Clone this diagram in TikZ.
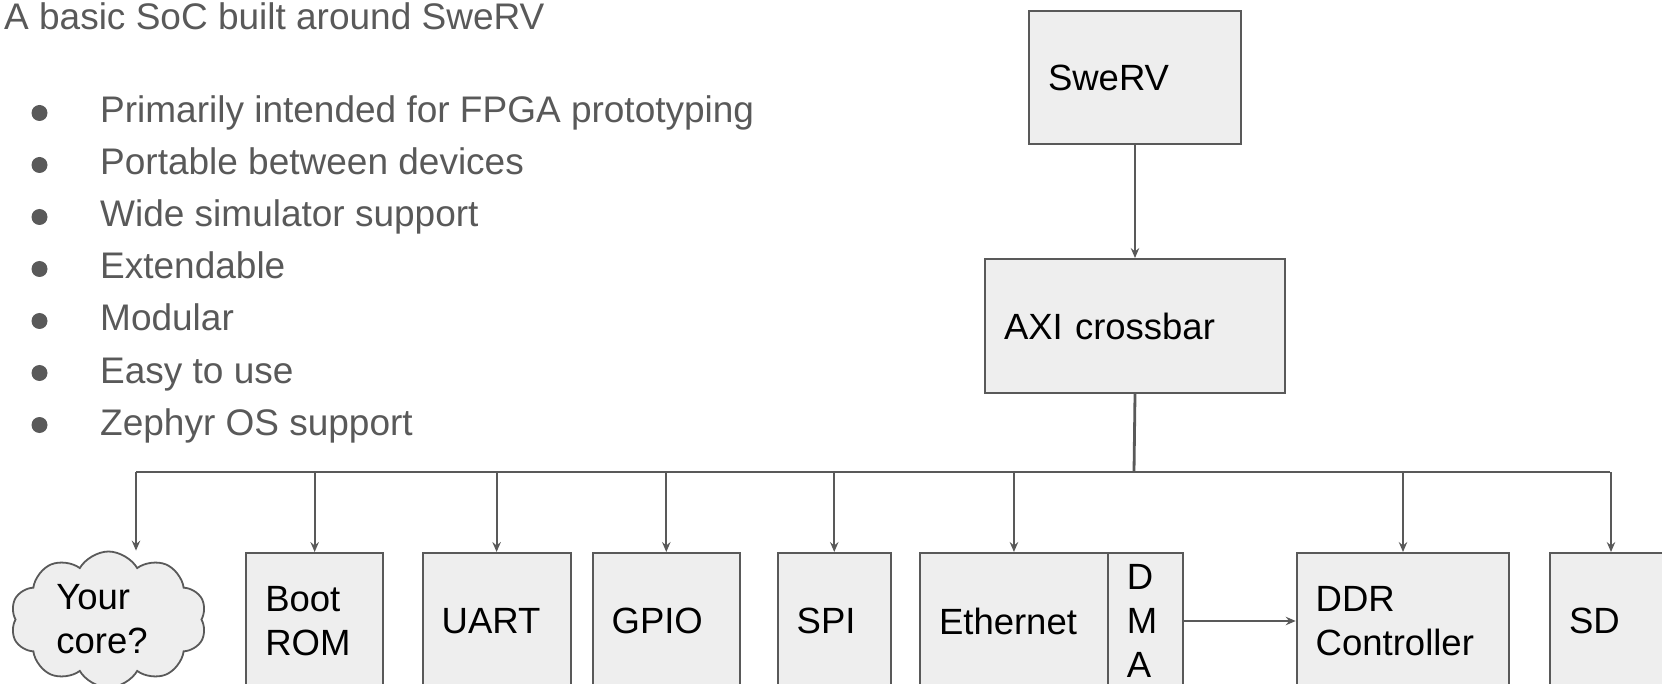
\documentclass[tikz,border=0pt]{standalone}
\usepackage{fontspec}
\setmainfont{Liberation Sans}
\usetikzlibrary{arrows.meta,shapes.symbols}
\definecolor{txtgray}{HTML}{595959}
\definecolor{linegray}{HTML}{595959}
\definecolor{boxfill}{HTML}{EEEEEE}
\begin{document}
\begin{tikzpicture}[x=1pt,y=-1pt,
  blk/.style={draw=linegray, line width=2pt, fill=boxfill, anchor=north west,
    inner xsep=19pt, inner ysep=0pt, align=left, text=black,
    font=\fontsize{36.5}{44}\selectfont},
  arr/.style={draw=linegray, line width=2pt, -{Stealth[length=10pt,width=8.5pt,inset=3.5pt]}},
  busline/.style={draw=linegray, line width=2.2pt},
  slide/.style={anchor=base west, inner sep=0pt, text=txtgray, font=\fontsize{37}{44}\selectfont},
  bdot/.style={circle, fill=txtgray, inner sep=0pt, minimum size=16pt}
]
\useasboundingbox (0,0) rectangle (1662,684);
\clip (0,0) rectangle (1662,684);

% left text
\node[slide] (title) at (4,30) {A basic SoC built around SweRV};
\node[bdot] (d1) at (39.5,113) {};
\node[slide] (b1) at (100,123) {Primarily intended for FPGA prototyping};
\node[bdot] (d2) at (39.5,165) {};
\node[slide] (b2) at (100,175) {Portable between devices};
\node[bdot] (d3) at (39.5,217) {};
\node[slide] (b3) at (100,227) {Wide simulator support};
\node[bdot] (d4) at (39.5,269) {};
\node[slide] (b4) at (100,279) {Extendable};
\node[bdot] (d5) at (39.5,321) {};
\node[slide] (b5) at (100,331) {Modular};
\node[bdot] (d6) at (39.5,373) {};
\node[slide] (b6) at (100,383) {Easy to use};
\node[bdot] (d7) at (39.5,425) {};
\node[slide] (b7) at (100,435) {Zephyr OS support};

% blocks
\node[blk, minimum width=212pt, minimum height=133pt, text width=174pt] (swerv) at (1028,10) {SweRV};
\node[blk, minimum width=300pt, minimum height=134pt, text width=262pt] (axi) at (984,258) {AXI crossbar};

\node[cloud, draw=linegray, line width=1.8pt, fill=boxfill, cloud puffs=10, cloud puff arc=120,
  cloud ignores aspect, minimum width=196pt, minimum height=136pt, inner sep=0pt] (cloud) at (108.5,619.5) {};
\node[align=left, inner sep=0pt, text=black, font=\fontsize{36.5}{44}\selectfont] (coretxt) at (102,619.5) {Your\\core?};

\node[blk, minimum width=136.7pt, minimum height=136pt, text width=98.7pt] (boot) at (245.3,552) {Boot\\ROM};
\node[blk, minimum width=147.8pt, minimum height=136pt, text width=109.8pt] (uart) at (421.7,552) {UART};
\node[blk, minimum width=147.4pt, minimum height=136pt, text width=109.4pt] (gpio) at (591.6,552) {GPIO};
\node[blk, minimum width=113.1pt, minimum height=136pt, text width=75.1pt] (spi) at (776.7,552) {SPI};
\node[blk, minimum width=187.9pt, minimum height=136pt, text width=149.9pt] (eth) at (919,552) {Ethernet};
\node[blk, minimum width=74.8pt, minimum height=136pt, text width=36.8pt] (dma) at (1106.9,552) {D\\M\\A};
\node[blk, minimum width=212.6pt, minimum height=136pt, text width=174.6pt] (ddr) at (1295.7,552) {DDR\\Controller};
\node[blk, minimum width=122pt, minimum height=136pt, text width=84pt] (sd) at (1549,552) {SD};

% connectors
\draw[arr] (swerv.south) -- (axi.north);
\coordinate (bus) at (1134,472);
\coordinate (busL) at (136,472);
\coordinate (busR) at (1610,472);
\draw[draw=linegray, line width=2.8pt] (axi.south) -- (bus);
\draw[busline] (busL) -- (busR);
\draw[arr] (busL) -- (busL |- cloud.north);
\foreach \b in {boot,uart,gpio,spi,eth,ddr,sd}{
  \draw[arr] (\b.north |- bus) -- (\b.north);
}
\draw[arr] (dma.east) -- (ddr.west);
\end{tikzpicture}
\end{document}
